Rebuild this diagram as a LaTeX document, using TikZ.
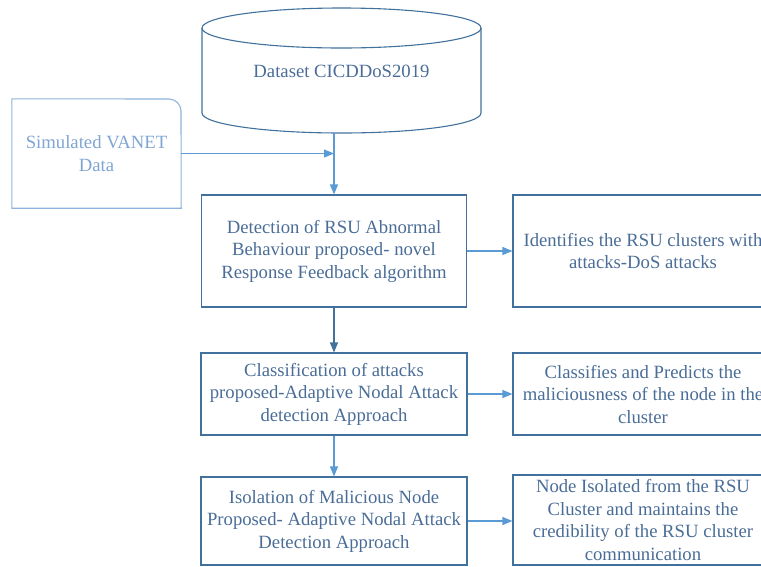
\documentclass[tikz,border=0pt]{standalone}
\usepackage{fontspec}
\setmainfont{Liberation Serif}
\usetikzlibrary{arrows.meta}
\definecolor{bord}{HTML}{41719C}
\definecolor{txtc}{HTML}{4A6D97}
\definecolor{arr}{HTML}{5B9BD5}
\definecolor{simb}{HTML}{8FB2DC}
\definecolor{simt}{HTML}{7FA5D3}
\tikzset{
  box/.style={draw=bord, line width=1.1pt, rectangle, inner sep=0pt, align=center,
    text=txtc, font=\fontsize{18.7pt}{22.5pt}\selectfont},
  plain/.style={inner sep=0pt, align=center, text=txtc, font=\fontsize{18.7pt}{22.5pt}\selectfont},
  flow/.style={draw=arr, line width=1.1pt, -{Triangle[length=10pt,width=8pt]}},
}
\begin{document}
\begin{tikzpicture}[x=1pt,y=-1pt]
\useasboundingbox (0,0) rectangle (761,566);
\clip (0,0) rectangle (761,566);
% cylinder
\draw[bord, line width=1.1pt] (341.5,28) ellipse [x radius=139.5pt, y radius=20pt];
\draw[bord, line width=1.1pt] (202,28) -- (202,113)
  arc[start angle=180, end angle=360, x radius=139.5pt, y radius=20pt] -- (481,28);
\node[plain] (db) at (341.5,71) {Dataset CICDDoS2019};
\coordinate (dbbot) at (334,133);
% simulated data
\node[plain, text=simt, minimum width=169pt, minimum height=109pt] (sim) at (96.5,153.5) {Simulated VANET\\Data};
\draw[simb, line width=1.1pt] (sim.south west) -- (sim.north west) -- (169,99)
  arc[start angle=90, end angle=0, radius=12pt] -- (sim.south east) -- cycle;
\coordinate (j) at (334,153.5);
% left boxes
\node[box, minimum width=265pt, minimum height=112pt] (b1) at (334,251)
  {Detection of RSU Abnormal\\Behaviour proposed- novel\\Response Feedback algorithm};
\node[box, minimum width=266pt, minimum height=82pt] (b2) at (334,394)
  {Classification of attacks\\proposed-Adaptive Nodal Attack\\detection Approach};
\node[box, minimum width=266pt, minimum height=88pt] (b3) at (334,521)
  {Isolation of Malicious Node\\Proposed- Adaptive Nodal Attack\\Detection Approach};
% right boxes
\node[box, minimum width=260pt, minimum height=112pt] (r1) at (643,251)
  {Identifies the RSU clusters with\\attacks-DoS attacks};
\node[box, minimum width=260pt, minimum height=82pt] (r2) at (643,394)
  {Classifies and Predicts the\\maliciousness of the node in the\\cluster};
\node[box, minimum width=260pt, minimum height=90pt] (r3) at (643,520)
  {Node Isolated from the RSU\\Cluster and maintains the\\credibility of the RSU cluster\\communication};
% connectors
\draw[flow] (dbbot) -- (b1.north);
\draw[flow] (sim.east |- j) -- (j);
\draw[flow] (b1.east) -- (r1.west);
\draw[flow] (b2.east) -- (r2.west);
\draw[flow] (b3.east) -- (r3.west |- b3.east);
\draw[flow, draw=bord] (b1.south) -- (b2.north);
\draw[flow] (b2.south) -- (b3.north);
\end{tikzpicture}
\end{document}
